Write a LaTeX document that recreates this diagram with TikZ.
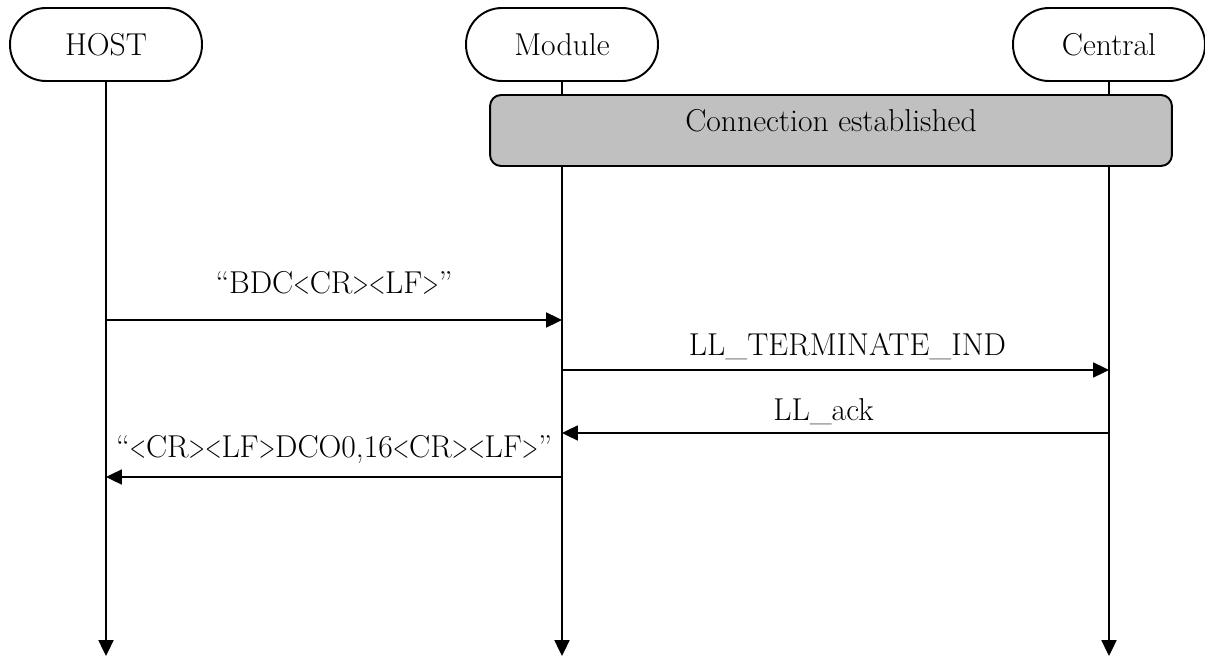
\documentclass[tikz,border=0pt]{standalone}
\usepackage{xcolor}
\usepackage{graphicx}
\usepackage{tikz}
\usetikzlibrary{arrows.meta,positioning}
\definecolor{PhaseGrey}{HTML}{C0C0C0}
\newcommand{\ltc}{\scalebox{0.68}[1]{<}}
\newcommand{\gtc}{\scalebox{0.68}[1]{>}}

\begin{document}
\begin{tikzpicture}[x=0.02cm,y=-0.02cm,line width=1.1pt,font=\fontsize{18}{21}\selectfont,party/.style={draw,rounded corners=0.72cm,fill=white,minimum width=3.84cm,minimum height=1.46cm},phase/.style={draw,rounded corners=0.22cm,fill=PhaseGrey,minimum width=13.64cm,minimum height=1.42cm},msg/.style={-{Triangle[length=9pt,width=8.5pt]}},lbl/.style={midway,anchor=base,inner sep=0pt}]
  \useasboundingbox (0,0) rectangle (1205,659);
  \node[party] (host) at (106,44.5) {HOST};
  \node[party] (module) at (562,44.5) {Module};
  \node[party] (central) at (1109,44.5) {Central};
  \coordinate (hostend) at (106,656);
  \coordinate (moduleend) at (562,656);
  \coordinate (centralend) at (1109,656);
  % lifelines
  \draw[msg] (host)--(hostend);
  \draw[msg] (module)--(moduleend);
  \draw[msg] (central)--(centralend);
  \node[phase] (conn) at (831,130.5) {};
  \node[anchor=base] (conntext) at (831,132) {Connection established};
  % messages
  \coordinate (h1) at (host |- 0,320);
  \coordinate (m1) at (module |- 0,320);
  \coordinate (m2) at (module |- 0,370);
  \coordinate (c2) at (central |- 0,370);
  \coordinate (c3) at (central |- 0,433);
  \coordinate (m3) at (module |- 0,433);
  \coordinate (m4) at (module |- 0,477);
  \coordinate (h4) at (host |- 0,477);
  \draw[msg] (h1)--(m1) node[lbl,yshift=0.54cm] {“BDC\ltc CR\gtc\ltc LF\gtc”};
  \draw[msg] (m2)--(c2) node[lbl,yshift=0.30cm,xshift=0.24cm] {LL\_TERMINATE\_IND};
  \draw[msg] (c3)--(m3) node[lbl,yshift=0.26cm,xshift=-0.24cm] {LL\_ack};
  \draw[msg] (m4)--(h4) node[lbl,yshift=0.40cm] {“\ltc CR\gtc\ltc LF\gtc DCO0,16\ltc CR\gtc\ltc LF\gtc”};
\end{tikzpicture}
\end{document}
